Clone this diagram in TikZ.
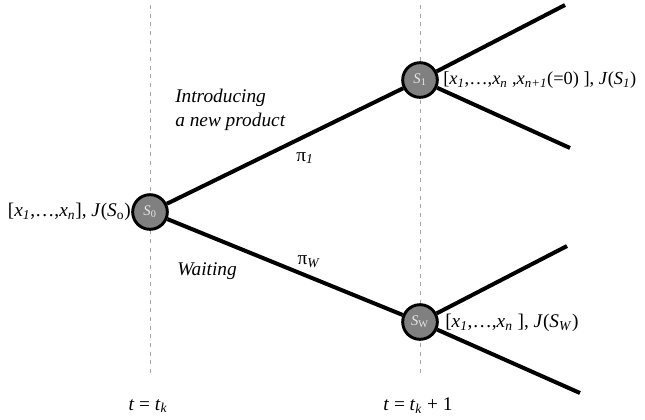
\documentclass[tikz,border=0pt]{standalone}
\usepackage{fontspec}
\setmainfont{Liberation Serif}
\usetikzlibrary{positioning}
\definecolor{cState}{HTML}{808080}
\definecolor{cStateText}{HTML}{E6E6E6}
\definecolor{cStage}{HTML}{A6A6A6}
\newcommand{\vx}[1]{\textit{x}\textsubscript{\textit{#1}}}
\newcommand{\vJ}[1]{\textit{J}(\textit{S}\textsubscript{#1})}

\begin{document}
\begin{tikzpicture}[x=0.75pt, y=-0.75pt,
    state/.style={
        circle, draw=black, fill=cState, line width=2.2pt,
        minimum size=26pt, inner sep=0pt, text=cStateText,
        font=\fontsize{11}{11}\selectfont
    },
    branch/.style={line width=3pt, color=black},
    stage/.style={line width=0.7pt, color=cStage, dash pattern=on 3pt off 3.5pt},
    lbl/.style={font=\fontsize{14.5}{16}\selectfont, inner sep=0pt},
    act/.style={font=\fontsize{14.5}{18}\selectfont\itshape, align=left, inner sep=0pt},
]
\useasboundingbox (0,0) rectangle (645,419);

% Stage lines
\coordinate (top0) at (150,5);
\coordinate (bot0) at (150,373);
\coordinate (top1) at (420,5);
\coordinate (bot1) at (420,373);
\draw[stage] (top0) -- (bot0);
\draw[stage] (top1) -- (bot1);

% States
\node[state] (s0) at (150,212) {\textit{S}\textsubscript{0}};
\node[state] (s1) at (420,80)  {\textit{S}\textsubscript{1}};
\node[state] (sw) at (420,322) {\textit{S}\textsubscript{W}};

% Free branch ends
\coordinate (s1up) at (565,5);
\coordinate (s1dn) at (570,148);
\coordinate (swup) at (567,246);
\coordinate (swdn) at (580,393);

% Branches
\draw[branch] (s0) -- (s1);
\draw[branch] (s0) -- (sw);
\draw[branch] (s1) -- (s1up);
\draw[branch] (s1) -- (s1dn);
\draw[branch] (sw) -- (swup);
\draw[branch] (sw) -- (swdn);

% State labels
\node[lbl, anchor=east] (l0) at (131,212) {[\vx{1},\dots,\vx{n}], \vJ{o}};
\node[lbl, anchor=west, font=\fontsize{13.8}{16}\selectfont] (l1) at (443,80)
    {[\vx{1},\dots,\vx{n} ,\vx{n+1}(=0) ], \textit{J}(\textit{S}\textsubscript{\textit{1}})};
\node[lbl, anchor=west] (lw) at (445,323)
    {[\vx{1},\dots,\vx{n} ], \textit{J}(\textit{S}\textsubscript{\textit{W}})};

% Actions
\node[act, anchor=north west] (intro) at (175,89) {Introducing\\a new product};
\node[act, anchor=west] (wait) at (177,271) {Waiting};
\node[lbl] (pii) at (305,158) {π\textsubscript{\textit{1}}};
\node[lbl] (piw) at (309,262) {π\textsubscript{\textit{W}}};

% Time labels
\node[lbl] (t0) at (148,406) {\textit{t} = \textit{t}\textsubscript{\textit{k}}};
\node[lbl] (t1) at (418,406) {\textit{t} = \textit{t}\textsubscript{\textit{k}} + 1};

\end{tikzpicture}
\end{document}
